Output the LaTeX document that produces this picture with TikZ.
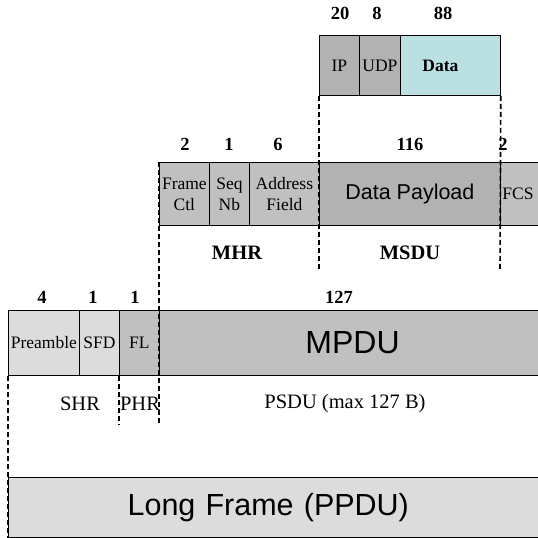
\documentclass[tikz,border=0pt]{standalone}
\usepackage{fontspec}
\setmainfont{Liberation Serif}
\setsansfont{Liberation Sans}
\definecolor{hdrgray}{RGB}{178,178,178}
\definecolor{midgray}{RGB}{192,192,192}
\definecolor{lightgray}{RGB}{220,220,220}
\definecolor{datacyan}{RGB}{186,224,226}
\begin{document}
\begin{tikzpicture}[x=1pt,y=-1pt,
  field/.style={draw=black,line width=0.8pt,inner sep=0pt,anchor=north west,
    align=center,font=\fontsize{17.5}{21}\selectfont},
  bytes/.style={font=\bfseries\fontsize{18.5}{18.5}\selectfont,inner sep=0pt},
  layer/.style={font=\fontsize{20.5}{20.5}\selectfont,inner sep=0pt},
  guide/.style={line width=1.6pt,dash pattern=on 5pt off 3pt}]
\useasboundingbox (0,0) rectangle (538,538);
\clip (0,0) rectangle (538,538);

% upper level: IP / UDP / Data
\node[field,fill=hdrgray,minimum width=40pt,minimum height=60pt] (ip) at (319,35) {IP};
\node[field,fill=hdrgray,minimum width=41pt,minimum height=60pt] (udp) at (359,35) {UDP};
\node[field,fill=datacyan,minimum width=100pt,minimum height=60pt,text width=80pt,align=left] (data) at (400,35) {\hspace*{12pt}\textbf{Data}};
\node[bytes] at (340,13) {20};
\node[bytes] at (377,13) {8};
\node[bytes] at (443,13) {88};

% MAC frame
\node[field,fill=midgray,minimum width=50pt,minimum height=63pt] (fc) at (159,162) {Frame\\Ctl};
\node[field,fill=midgray,minimum width=40pt,minimum height=63pt] (seq) at (209,162) {Seq\\Nb};
\node[field,fill=midgray,minimum width=70pt,minimum height=63pt] (addr) at (249,162) {Address\\Field};
\node[field,fill=hdrgray,minimum width=181pt,minimum height=63pt,font=\sffamily\fontsize{21.5}{21.5}\selectfont] (payload) at (319,162) {Data Payload};
\node[field,fill=midgray,minimum width=60pt,minimum height=63pt,text width=56pt,align=left] (fcs) at (500,162) {\raisebox{-3pt}{FCS}};
\node[bytes] at (185,144) {2};
\node[bytes] at (229,144) {1};
\node[bytes] at (278,144) {6};
\node[bytes] at (410,144) {116};
\node[bytes] at (503,144) {2};
\node[layer,font=\bfseries\fontsize{20.5}{20.5}\selectfont] (mhr) at (237,253) {MHR};
\node[layer,font=\bfseries\fontsize{20.5}{20.5}\selectfont] (msdu) at (410,253) {MSDU};

% PHY frame
\node[field,fill=lightgray,minimum width=71pt,minimum height=65pt] (pre) at (8,310) {Preamble};
\node[field,fill=lightgray,minimum width=40pt,minimum height=65pt] (sfd) at (79,310) {SFD};
\node[field,fill=midgray,minimum width=40pt,minimum height=65pt] (fl) at (119,310) {FL};
\node[field,fill=midgray,minimum width=400pt,minimum height=65pt,text width=380pt,align=left,font=\sffamily\fontsize{32}{32}\selectfont] (mpdu) at (159,310) {\hspace*{136pt}MPDU};
\node[bytes] at (42,297) {4};
\node[bytes] at (93,297) {1};
\node[bytes] at (135,297) {1};
\node[bytes] at (339,297) {127};
\node[layer] (shr) at (80,404) {SHR};
\node[layer] (phr) at (140,404) {PHR};
\node[layer] (psdu) at (345,404) {PSDU (max 127 B)};

% PPDU
\node[field,fill=lightgray,line width=1.2pt,minimum width=560pt,minimum height=60pt,text width=540pt,align=left,font=\sffamily\fontsize{30.5}{30.5}\selectfont] (ppdu) at (8,477) {\hspace*{109pt}Long Frame (PPDU)};

% encapsulation guides
\coordinate (msdul) at (319,270);
\coordinate (msdur) at (500,270);
\coordinate (phrl) at (119,425);
\coordinate (phrr) at (159,425);
\draw[guide] (ip.south west) -- (msdul);
\draw[guide] (data.south east) -- (msdur);
\draw[guide] (fc.north west) -- (phrr);
\draw[guide] (fl.south west) -- (phrl);
\draw[guide] (pre.south west) -- (ppdu.south west);
\end{tikzpicture}
\end{document}
